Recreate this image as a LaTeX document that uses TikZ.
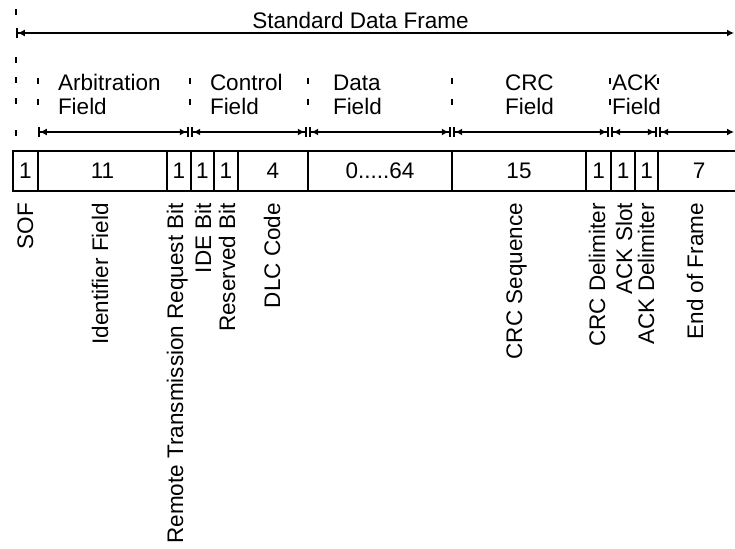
\documentclass[tikz,border=0pt]{standalone}
\usepackage{fontspec}
\setmainfont{Liberation Sans}
\usetikzlibrary{arrows.meta}
\begin{document}
\begin{tikzpicture}[x=1pt,y=-1pt,
  every node/.style={font=\fontsize{22.5}{26}\selectfont, inner sep=0pt, outer sep=0pt},
  cell/.style={draw, line width=1.8pt, minimum height=40pt, anchor=center},
  vlabel/.style={rotate=90, anchor=base east},
  flabel/.style={anchor=base west},
  dimline/.style={line width=1.5pt, {Bar[width=10pt,line width=1.8pt]Latex[length=7pt,width=7pt]}-{Latex[length=7pt,width=7pt]Bar[width=10pt,line width=1.8pt]}},
  openend/.style={line width=1.5pt, {Bar[width=10pt,line width=1.8pt]Latex[length=7pt,width=7pt]}-{Latex[length=7pt,width=7pt]}},
  tickmark/.style={line width=1.9pt},
]
\useasboundingbox (0,0) rectangle (735,548);

% title and overall dimension
\node[anchor=base] (title) at (360.5,29) {Standard Data Frame};
\coordinate (tstart) at (16,33);
\coordinate (tend) at (734,33);
\draw[openend] (tstart) -- (tend);

% dashed left line
\foreach \yc in {12,60,80,101,133} \draw[tickmark] (16,\yc-3) -- (16,\yc+3);

% field boundary ticks
\foreach \xb in {38,190,308,452,610,658} {
  \draw[tickmark] (\xb,78) -- (\xb,84);
  \draw[tickmark] (\xb,99) -- (\xb,105);
}

% field labels
\node[flabel] (arb1) at (58,91) {Arbitration};
\node[flabel] (arb2) at (58,115) {Field};
\node[flabel] (ctl1) at (210,91) {Control};
\node[flabel] (ctl2) at (210,115) {Field};
\node[flabel] (dat1) at (333,91) {Data};
\node[flabel] (dat2) at (333,115) {Field};
\node[flabel] (crc1) at (505,91) {CRC};
\node[flabel] (crc2) at (505,115) {Field};
\node[flabel] (ack1) at (612,91) {ACK};
\node[flabel] (ack2) at (612,115) {Field};

% field dimension arrows
\coordinate (b0s) at (38,132);
\coordinate (b1e) at (188.6,132);
\coordinate (b1s) at (191.4,132);
\coordinate (b2e) at (306.6,132);
\coordinate (b2s) at (309.4,132);
\coordinate (b3e) at (450.6,132);
\coordinate (b3s) at (453.4,132);
\coordinate (b4e) at (608.6,132);
\coordinate (b4s) at (611.4,132);
\coordinate (b5e) at (656.6,132);
\coordinate (b5s) at (659.4,132);
\coordinate (b6e) at (734,132);
\draw[dimline] (b0s) -- (b1e);
\draw[dimline] (b1s) -- (b2e);
\draw[dimline] (b2s) -- (b3e);
\draw[dimline] (b3s) -- (b4e);
\draw[dimline] (b4s) -- (b5e);
\draw[openend] (b5s) -- (b6e);

% bit cells
\node[cell, minimum width=25pt]  (sof)  at (25.5,171) {1};
\node[cell, minimum width=129pt] (ident) at (102.5,171) {11};
\node[cell, minimum width=24pt]  (rtr)  at (179,171) {1};
\node[cell, minimum width=23pt]  (ide)  at (202.5,171) {1};
\node[cell, minimum width=24pt]  (rzero) at (226,171) {1};
\node[cell, minimum width=70pt]  (dlc)  at (273,171) {4};
\node[cell, minimum width=144pt] (data) at (380,171) {0.....64};
\node[cell, minimum width=134pt] (crc)  at (519,171) {15};
\node[cell, minimum width=25pt]  (crcd) at (598.5,171) {1};
\node[cell, minimum width=24pt]  (acks) at (623,171) {1};
\node[cell, minimum width=23pt]  (ackd) at (646.5,171) {1};
\node[cell, minimum width=82pt]  (eof)  at (699,171) {7};

% vertical labels
\node[vlabel] (lsof)  at (33,203)  {SOF};
\node[vlabel] (lid)   at (108,203) {Identifier Field};
\node[vlabel] (lrtr)  at (183,203) {Remote Transmission Request Bit};
\node[vlabel] (lide)  at (211,203) {IDE Bit};
\node[vlabel] (lr0)   at (235,203) {Reserved Bit};
\node[vlabel] (ldlc)  at (280,203) {DLC Code};
\node[vlabel] (lcrc)  at (522,203) {CRC Sequence};
\node[vlabel] (lcrcd) at (605,203) {CRC Delimiter};
\node[vlabel] (lacks) at (632,203) {ACK Slot};
\node[vlabel] (lackd) at (654,203) {ACK Delimiter};
\node[vlabel] (leof)  at (703,203) {End of Frame};
\end{tikzpicture}
\end{document}
